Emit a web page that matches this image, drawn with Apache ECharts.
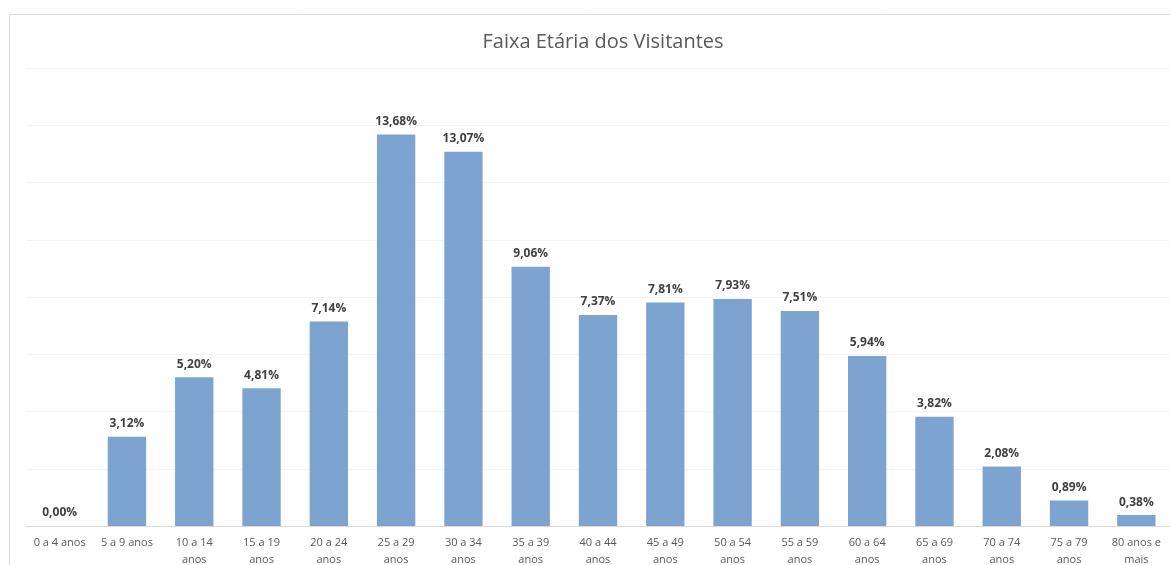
<!DOCTYPE html>
<html>
<head>
<meta charset="utf-8">
<script src="https://cdn.jsdelivr.net/npm/echarts@6/dist/echarts.min.js"></script>
<style>
  html, body { margin: 0; padding: 0; background: #fff; }
  #chart { width: 1170px; height: 565px; }
</style>
</head>
<body>
<div id="chart"></div>
<script>
// faixas etárias (categorias do eixo x)
var faixas = ['0 a 4 anos', '5 a 9 anos', '10 a 14\nanos', '15 a 19\nanos', '20 a 24\nanos',
  '25 a 29\nanos', '30 a 34\nanos', '35 a 39\nanos', '40 a 44\nanos', '45 a 49\nanos',
  '50 a 54\nanos', '55 a 59\nanos', '60 a 64\nanos', '65 a 69\nanos', '70 a 74\nanos',
  '75 a 79\nanos', '80 anos e\nmais'];
// percentual de visitantes
var percentuais = [0.00, 3.12, 5.20, 4.81, 7.14, 13.68, 13.07, 9.06, 7.37, 7.81, 7.93, 7.51, 5.94, 3.82, 2.08, 0.89, 0.38];

var myChart = echarts.init(document.getElementById('chart'));
myChart.setOption({
  animation: false,
  title: {
    text: 'Faixa Etária dos Visitantes',
    left: 598,
    top: 27,
    textAlign: 'center',
    textStyle: { fontFamily: 'Open Sans', fontSize: 20, fontWeight: 'normal', color: '#595959' }
  },
  graphic: [{
    type: 'rect',
    shape: { x: 9.5, y: 14.5, width: 1170, height: 560 },
    style: { fill: 'none', stroke: '#d9d9d9', lineWidth: 1 },
    silent: true
  }],
  grid: { left: 26, right: 0, top: 68, bottom: 39, outerBoundsMode: 'none', containLabel: false },
  xAxis: {
    type: 'category',
    data: faixas,
    axisLine: { lineStyle: { color: '#d9d9d9' } },
    axisTick: { show: false },
    axisLabel: {
      interval: 0,
      margin: 8,
      color: '#595959',
      fontFamily: 'Open Sans',
      fontSize: 11,
      lineHeight: 17
    }
  },
  yAxis: {
    type: 'value',
    min: 0,
    max: 16,
    interval: 2,
    axisLabel: { show: false },
    axisLine: { show: false },
    axisTick: { show: false },
    splitLine: { lineStyle: { color: '#f3f3f3' } }
  },
  series: [{
    type: 'bar',
    data: percentuais,
    barCategoryGap: '43%',
    itemStyle: { color: '#7da4d1' },
    label: {
      show: true,
      position: 'top',
      distance: 7,
      color: '#404040',
      fontFamily: 'Open Sans',
      fontWeight: 'bold',
      fontSize: 12,
      formatter: function (p) { return p.value.toFixed(2).replace('.', ',') + '%'; }
    }
  }]
});
</script>
</body>
</html>
